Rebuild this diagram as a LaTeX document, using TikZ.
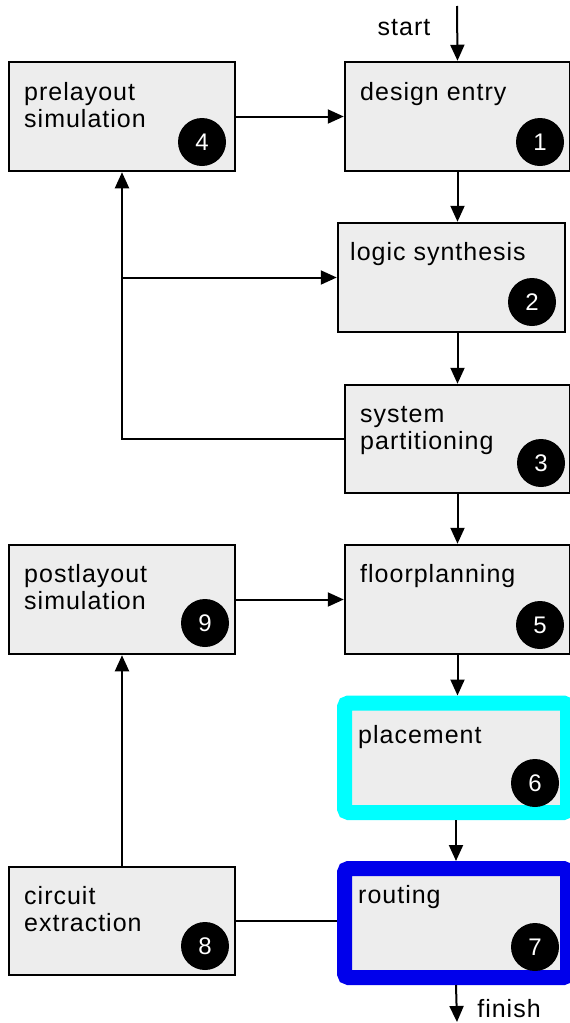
\documentclass[tikz,border=0pt]{standalone}
\usepackage{fontspec}
\setmainfont{Liberation Sans}[LetterSpace=4]
\usetikzlibrary{arrows.meta}
\definecolor{boxgray}{RGB}{237,237,237}
\definecolor{cyanB}{RGB}{0,255,255}
\definecolor{blueB}{RGB}{0,0,235}
\begin{document}
\begin{tikzpicture}[x=1pt,y=-1pt,
  box/.style={draw=black, line width=2.5pt, fill=boxgray, inner sep=0pt},
  hibox/.style={draw=#1, line width=15pt, fill=boxgray, rounded corners=4pt, inner sep=0pt},
  lbl/.style={anchor=north west, inner sep=0pt, align=left, font=\fontsize{25}{27}\selectfont},
  num/.style={circle, fill=black, text=white, minimum size=48pt, inner sep=0pt, font=\fontsize{24}{24}\selectfont},
  arr/.style={line width=2pt, -{Triangle[length=16pt,width=14pt]}},
  conn/.style={line width=2pt}
]
\useasboundingbox (0,0) rectangle (570,1023);

% boxes
\node[box, minimum width=226pt, minimum height=109pt] (pre) at (122,116.5) {};
\node[box, minimum width=225pt, minimum height=109pt] (design) at (457.5,116.5) {};
\node[box, minimum width=227pt, minimum height=109pt] (logic) at (451.5,277.5) {};
\node[box, minimum width=225pt, minimum height=108pt] (sys) at (457.5,439) {};
\node[box, minimum width=226pt, minimum height=109pt] (post) at (122,599.5) {};
\node[box, minimum width=225pt, minimum height=109pt] (floor) at (457.5,599.5) {};
\node[box, minimum width=226pt, minimum height=108pt] (extract) at (122,921) {};
\node[hibox=cyanB, minimum width=223pt, minimum height=109.5pt] (place) at (456,757.75) {};
\node[hibox=blueB, minimum width=223pt, minimum height=109pt] (route) at (456,923) {};

% labels
\node[lbl] (tpre) at (24,82) {prelayout\\simulation};
\node[lbl] (tdesign) at (360,82) {design entry};
\node[lbl] (tlogic) at (350,242) {logic synthesis};
\node[lbl] (tsys) at (360,406) {system\\partitioning};
\node[lbl] (tpost) at (24,564) {postlayout\\simulation};
\node[lbl] (tfloor) at (360,564) {floorplanning};
\node[lbl] (tplace) at (358,725) {placement};
\node[lbl] (troute) at (358,885) {routing};
\node[lbl] (textract) at (24,886) {circuit\\extraction};

% numbers
\node[num] (n1) at (540,142) {1};
\node[num] (n2) at (532,302) {2};
\node[num] (n3) at (541,463) {3};
\node[num] (n4) at (202,142) {4};
\node[num] (n5) at (540,625) {5};
\node[num] (n6) at (535,783) {6};
\node[num] (n7) at (535,947) {7};
\node[num] (n8) at (205,946) {8};
\node[num] (n9) at (205,623) {9};

% start / finish
\coordinate (st) at (457,6);
\coordinate (fin) at (457,1022);
\node[font=\fontsize{25}{27}\selectfont, inner sep=0pt, anchor=base] (tstart) at (404,35) {start};
\node[font=\fontsize{25}{27}\selectfont, inner sep=0pt, anchor=base] (tfinish) at (509,1017) {finish};

% connectors
\draw[arr] (st) -- (design.north);
\draw[arr] (design.south) -- (design.south |- logic.north);
\draw[arr] (sys.north |- logic.south) -- (sys.north);
\draw[arr] (sys.south) -- (floor.north);
\draw[arr] (floor.south) -- (floor.south |- place.north);
\draw[arr] (place.south) -- (route.north);
\draw[arr] (route.south) -- (fin);
\draw[arr] (pre.east) -- (pre.east -| design.west);
\draw[arr] (post.east) -- (post.east -| floor.west);
\draw[arr] (sys.west) -| (pre.south);
\draw[arr] (pre.south |- logic.west) -- (logic.west);
\draw[arr] (extract.north) -- (post.south);
\draw[conn] (extract.east) -- (extract.east -| route.west);
\end{tikzpicture}
\end{document}
